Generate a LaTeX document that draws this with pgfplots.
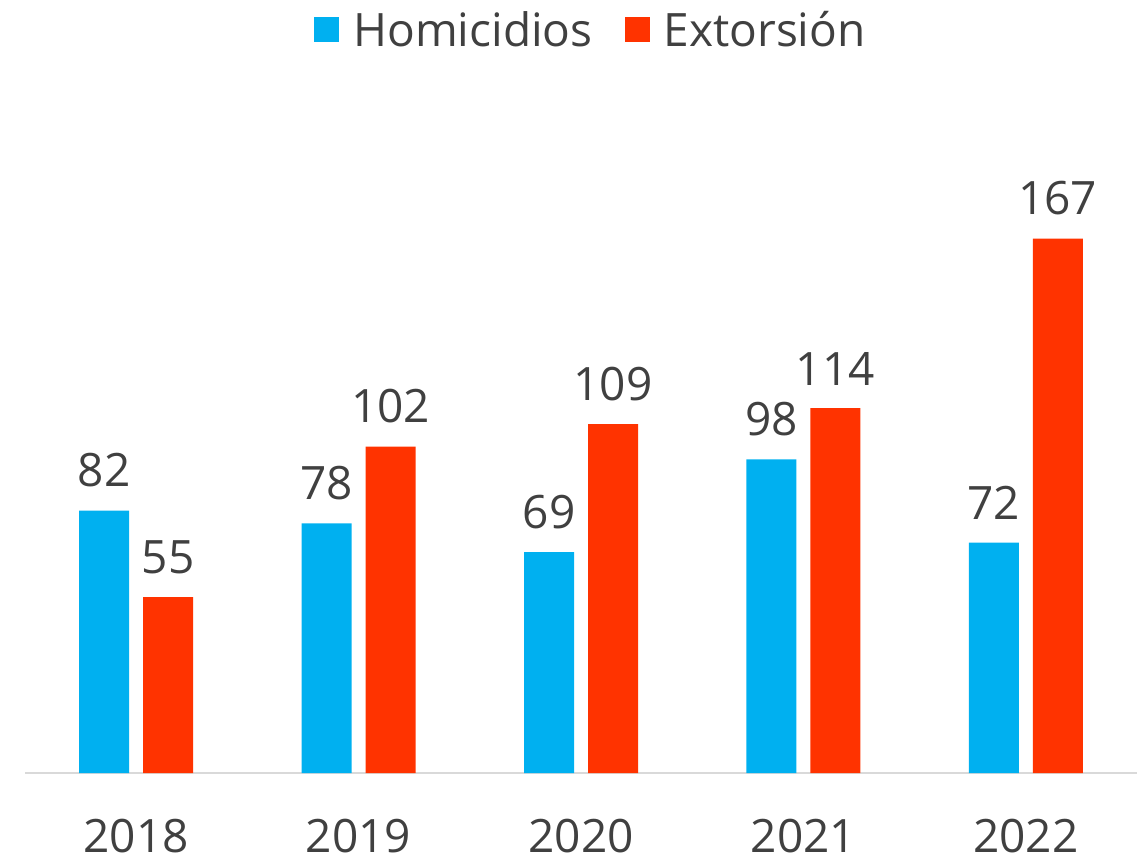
\documentclass[border=0pt]{standalone}
\usepackage{pgfplots}
\pgfplotsset{compat=1.18}
\usepackage{fontspec}
\setmainfont{Open Sans}
\definecolor{cblue}{HTML}{00B0F0}
\definecolor{cred}{HTML}{FF3300}
\definecolor{ctext}{HTML}{404040}
\definecolor{cline}{HTML}{D9D9D9}
\newcommand\bigfont{\fontsize{46}{55}\selectfont}
\begin{document}
\begin{tikzpicture}
\useasboundingbox (-25pt,-90pt) rectangle (1122pt,773pt);
\begin{axis}[
  at={(0pt,0pt)}, anchor=south west,
  scale only axis, width=1112pt, height=672pt,
  xmin=-0.5, xmax=4.5, ymin=0, ymax=210,
  ybar=14pt, bar width=50pt,
  axis x line*=bottom, axis y line=none,
  x axis line style={draw=cline, line width=2pt, -},
  xtick=data, xticklabels={2018,2019,2020,2021,2022},
  major tick length=0pt,
  xticklabel style={font=\bigfont, text=ctext, anchor=north, inner sep=0pt, yshift=-46pt},
  ytick=\empty,
  nodes near coords={\bigfont\pgfmathprintnumber[assume math mode=true]{\pgfplotspointmeta}},
  every node near coord/.append style={text=ctext, inner sep=0pt, anchor=south, yshift=23pt},
  legend style={at={(0.509,1.106)}, anchor=center, draw=none, fill=none, font=\bigfont, text=ctext,
    legend columns=2, /tikz/every even column/.append style={column sep=30pt},
    /tikz/every odd column/.append style={column sep=12pt}},
  legend image code/.code={\fill[#1, draw=none] (0pt,-12.5pt) rectangle (25pt,12.5pt);},
]
\addplot[fill=cblue, draw=none] coordinates {(0,82) (1,78) (2,69) (3,98) (4,72)};
\addplot[fill=cred, draw=none] coordinates {(0,55) (1,102) (2,109) (3,114) (4,167)};
\legend{Homicidios, Extorsión}
\end{axis}
\end{tikzpicture}
\end{document}
